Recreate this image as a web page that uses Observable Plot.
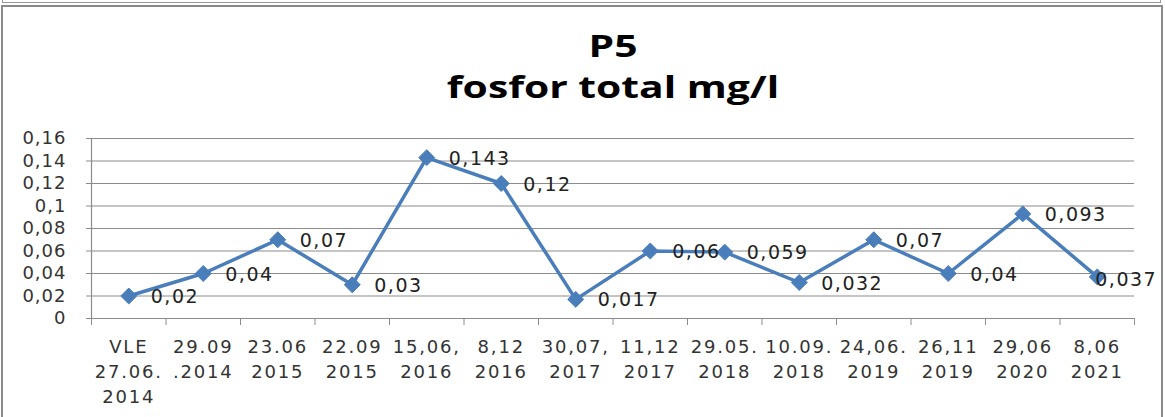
<!DOCTYPE html>
<html>
<head>
<meta charset="utf-8">
<script src="https://cdn.jsdelivr.net/npm/d3@7"></script>
<script src="https://cdn.jsdelivr.net/npm/@observablehq/plot@0.6"></script>
<style>
  html, body { margin: 0; padding: 0; background: #fff; width: 1165px; height: 417px; overflow: hidden; }
  #topstrip { position: absolute; left: 2px; top: -10px; width: 1159px; height: 13px; border: 1px solid #999; box-sizing: border-box; }
  #frame { position: absolute; left: 1px; top: 5px; width: 1162px; height: 430px; border: 2px solid #8a8a8a; box-sizing: border-box; }
  #title { position: absolute; left: 0; top: 25px; width: 1226px; text-align: center; font-family: "Open Sans", sans-serif; font-weight: bold; font-size: 30px; line-height: 41px; color: #000; transform: scaleX(1.36); transform-origin: 613px 0; }
  #chart { position: absolute; left: 0; top: 120px; }
  #chart g[aria-label="x-axis tick label"] text { letter-spacing: 1.8px; }
  #chart g[aria-label="y-axis tick label"] text { letter-spacing: 1px; }
  #chart g[aria-label="text"] text { letter-spacing: 1.5px; }
</style>
</head>
<body>
<div id="topstrip"></div>
<div id="frame"></div>
<div id="title">P5<br>fosfor total mg/l</div>
<div id="chart"></div>
<script>
const categories = [
  "VLE\n27.06.\n2014", "29.09\n.2014", "23.06\n2015", "22.09\n2015", "15,06,\n2016", "8,12\n2016",
  "30,07,\n2017", "11,12\n2017", "29.05.\n2018", "10.09.\n2018", "24,06.\n2019", "26,11\n2019",
  "29,06\n2020", "8,06\n2021"
];
const values = [0.02, 0.04, 0.07, 0.03, 0.143, 0.12, 0.017, 0.06, 0.059, 0.032, 0.07, 0.04, 0.093, 0.037];
const yTicks = [0, 0.02, 0.04, 0.06, 0.08, 0.1, 0.12, 0.14, 0.16];
const yTickLabels = ["0", "0,02", "0,04", "0,06", "0,08", "0,1", "0,12", "0,14", "0,16"];

const data = values.map((v, i) => ({i, v, label: String(v).replace(".", ",")}));
const last = data.length - 1;
const idx = d3.range(categories.length);
const bounds = d3.range(categories.length + 1).map(i => i - 0.5);

const blue = "#4a7ebb";
const grid = "#8c8c8c";
const font = "'DejaVu Sans', Verdana, sans-serif";

const chart = Plot.plot({
  width: 1165,
  height: 297,
  marginLeft: 91,
  marginRight: 31,
  marginTop: 18,
  marginBottom: 99,
  style: {fontFamily: font, fontSize: "18px", color: "#333", background: "transparent", overflow: "visible"},
  x: {type: "linear", domain: [-0.5, categories.length - 0.5]},
  y: {domain: [0, 0.16]},
  marks: [
    Plot.gridY(yTicks.slice(1), {stroke: grid, strokeOpacity: 1, strokeWidth: 1.2}),
    Plot.ruleY([0], {stroke: grid, strokeWidth: 1.2}),
    Plot.ruleX([-0.5], {y1: 0, y2: 0.16, stroke: grid, strokeWidth: 1.2}),
    Plot.axisY(yTicks, {tickSize: 5, tickPadding: 20, stroke: grid, fontSize: 18, tickFormat: d => yTickLabels[yTicks.indexOf(d)], label: null, fill: "#333"}),
    Plot.axisX(bounds, {tickSize: 7, stroke: grid, tickFormat: () => "", label: null}),
    Plot.axisX(idx, {tickSize: 0, tickPadding: 17, fontSize: 18, dx: 0, tickFormat: i => categories[i], label: null, lineHeight: 1.38, fill: "#333"}),
    Plot.line(data, {x: "i", y: "v", stroke: blue, strokeWidth: 3.5}),
    Plot.dot(data, {x: "i", y: "v", symbol: "diamond2", r: 7.2, fill: blue, stroke: blue, strokeWidth: 1}),
    Plot.text(data.filter(d => d.i !== last), {x: "i", y: "v", text: "label", textAnchor: "start", dx: 22, dy: 1, fontSize: 19, fill: "#222", fontFamily: font}),
    Plot.text(data.filter(d => d.i === last), {x: "i", y: "v", text: "label", textAnchor: "start", dx: -2, dy: 3, fontSize: 19, fill: "#222", fontFamily: font})
  ]
});
document.getElementById("chart").appendChild(chart);
</script>
</body>
</html>
